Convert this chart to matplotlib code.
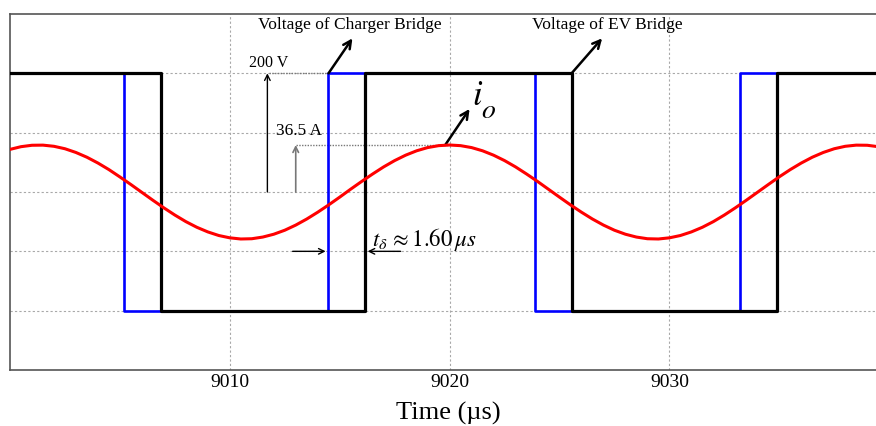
import matplotlib
matplotlib.use("Agg")
import matplotlib.pyplot as plt

plt.rcParams['font.family'] = ['Liberation Serif', 'DejaVu Serif']
plt.rcParams['mathtext.fontset'] = 'stix'

# ---- data ----
t_start, t_end = 9000.0, 9039.4
V_LEVEL = 200.0            # bridge voltage amplitude (V)
I_PEAK = 36.5              # current peak (A)
I_DISPLAY = 79.2 / 36.5    # display scale of current vs voltage axis

# switching instants (us), both bridges start high
ev_edges = [9006.86, 9016.17, 9025.55, 9034.89]
charger_edges = [9005.17, 9014.49, 9023.88, 9033.23]

# sampled inductor current (A), every 0.5 us starting at 9000.0
current_t0 = 9000.0
current_dt = 0.5
current_A = [
    33.1, 35.2, 36.3, 36.4, 35.5, 33.6, 30.7, 27.0, 22.5, 17.4,
    11.7, 5.8, -0.3, -6.4, -12.3, -17.9, -23.0, -27.4, -31.0, -33.8,
    -35.6, -36.5, -36.3, -35.0, -32.8, -29.7, -25.7, -21.0, -15.7, -10.0,
    -4.0, 2.2, 8.2, 14.0, 19.5, 24.4, 28.6, 32.0, 34.5, 36.0,
    36.5, 36.0, 34.5, 32.0, 28.6, 24.4, 19.5, 14.0, 8.2, 2.1,
    -4.0, -10.0, -15.7, -21.0, -25.7, -29.7, -32.8, -35.0, -36.3, -36.5,
    -35.6, -33.8, -31.0, -27.4, -23.0, -17.9, -12.3, -6.4, -0.3, 5.8,
    11.8, 17.4, 22.5, 27.0, 30.7, 33.6, 35.5, 36.4, 36.3, 35.2,
]
x_ticks = [9010, 9020, 9030]
y_grid = [-200, -100, 0, 100, 200]


def square(edges):
    ts = [t_start] + list(edges) + [t_end]
    lv = []
    level = V_LEVEL
    for _ in range(len(edges) + 1):
        lv.append(level)
        level = -level
    lv.append(lv[-1])
    return ts, lv


fig = plt.figure(figsize=(8.76, 4.26), dpi=100)
ax = fig.add_axes([10 / 876, 56 / 426, 866 / 876, 356 / 426])
ax.set_xlim(t_start, t_end)
ax.set_ylim(-300, 300)

ts_c, lv_c = square(charger_edges)
ts_e, lv_e = square(ev_edges)
ax.step(ts_c, lv_c, where='post', color='#0000ff', lw=1.9, zorder=3)
ax.step(ts_e, lv_e, where='post', color='black', lw=2.3, zorder=4)

ct = [current_t0 + current_dt * k for k in range(len(current_A))]
ax.plot(ct, [a * I_DISPLAY for a in current_A], color='#ff0000', lw=2.2, zorder=5)

ax.set_xticks(x_ticks)
ax.set_xticklabels([str(x) for x in x_ticks], fontsize=14)
ax.set_yticks(y_grid)
ax.set_yticklabels([])
ax.tick_params(length=0, pad=3)
ax.grid(True, color='#a8a8a8', linestyle=(0, (2, 2)), lw=0.8)
ax.set_axisbelow(True)
for s in ax.spines.values():
    s.set_color('#555555')
    s.set_linewidth(1.2)
ax.spines['right'].set_visible(False)

fig.text(448 / 876, 1 - 413 / 426, 'Time (µs)', ha='center', va='center', fontsize=19)

# annotations
arrow_kw = dict(arrowstyle='->', color='black', lw=1.8, shrinkA=0, shrinkB=0, mutation_scale=14)
ax.text(9015.45, 281, 'Voltage of Charger Bridge', ha='center', va='center', fontsize=12.5)
ax.annotate('', xy=(9015.58, 259), xytext=(charger_edges[1], V_LEVEL), arrowprops=arrow_kw)
ax.text(9027.18, 281, 'Voltage of EV Bridge', ha='center', va='center', fontsize=12.5)
ax.annotate('', xy=(9026.94, 259), xytext=(ev_edges[2], V_LEVEL), arrowprops=arrow_kw)

# 200 V marker
ax.text(9011.75, 217, '200 V', ha='center', va='center', fontsize=11.5)
ax.plot([9011.77, charger_edges[1]], [V_LEVEL, V_LEVEL], color='#777777', lw=1.0,
        linestyle=(0, (1, 1)), zorder=2)
thin_kw = dict(arrowstyle='->', color='black', lw=1.0, shrinkA=0, shrinkB=0, mutation_scale=10)
ax.annotate('', xy=(9011.71, V_LEVEL), xytext=(9011.71, 0), arrowprops=thin_kw)

# 36.5 A marker
peak = I_PEAK * I_DISPLAY
ax.text(9013.14, 103, '36.5 A', ha='center', va='center', fontsize=12.5)
ax.plot([9013.0, 9019.95], [peak, peak], color='#777777', lw=1.0,
        linestyle=(0, (1, 1)), zorder=2)
gray_kw = dict(arrowstyle='->', color='#777777', lw=1.2, shrinkA=0, shrinkB=0, mutation_scale=10)
ax.annotate('', xy=(9013.0, peak), xytext=(9013.0, 0), arrowprops=gray_kw)

# i_o label
ax.annotate('', xy=(9020.91, 140), xytext=(9019.8, peak), arrowprops=arrow_kw)
ax.text(9021.0, 146, r'$\mathit{i}$', ha='left', va='baseline', fontsize=25)
ax.text(9021.45, 124, r'$\mathit{o}$', ha='left', va='baseline', fontsize=20)

# dead-time marker
ax.annotate('', xy=(9014.36, -100), xytext=(9012.86, -100), arrowprops=thin_kw)
ax.annotate('', xy=(9016.27, -100), xytext=(9017.77, -100), arrowprops=thin_kw)
ax.text(9016.45, -80, r'$t_\delta\, \approx 1.60\,\mu s$', ha='left', va='center', fontsize=16.5)

fig.savefig('out.png', dpi=100)
